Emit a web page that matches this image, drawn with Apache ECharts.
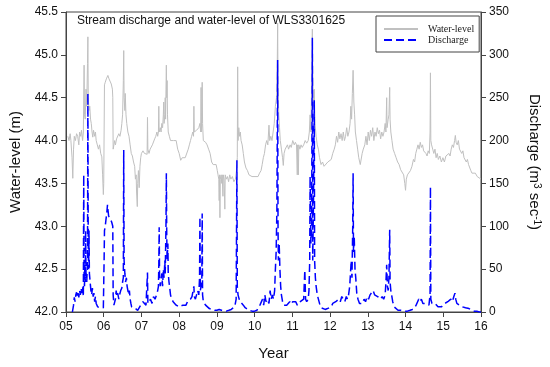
<!DOCTYPE html>
<html>
<head>
<meta charset="utf-8">
<script src="https://cdn.jsdelivr.net/npm/echarts@6/dist/echarts.min.js"></script>
<style>html,body{margin:0;padding:0;background:#fff}#c{width:550px;height:367px}</style>
</head>
<body>
<div id="c"></div>
<script>
// Water-level (m): [decimal year (05 = 2005), level]
var waterLevel = [
[5.05,44.05],[5.08,44.0],[5.11,44.08],[5.13,44.0],[5.16,43.8],[5.18,43.56],[5.20,43.9],[5.22,44.05],[5.25,44.0],[5.28,44.08],
[5.31,44.05],[5.34,43.95],[5.36,44.1],[5.39,44.05],[5.41,44.12],[5.44,44.0],[5.46,44.1],[5.48,44.88],[5.49,44.3],[5.51,44.25],
[5.53,44.6],[5.55,44.4],[5.57,44.9],[5.58,45.21],[5.59,44.5],[5.61,44.35],[5.63,44.4],[5.65,44.25],[5.67,44.2],[5.69,44.1],
[5.71,44.04],[5.73,44.12],[5.76,44.05],[5.78,44.1],[5.80,44.0],[5.83,43.95],[5.86,43.9],[5.89,43.95],[5.92,43.85],[5.95,43.81],
[5.97,43.6],[5.99,43.37],[6.00,43.5],[6.02,44.65],[6.04,44.68],[6.07,44.72],[6.09,44.7],[6.11,44.76],[6.14,44.72],[6.17,44.7],
[6.20,44.66],[6.23,44.6],[6.24,44.5],[6.25,43.9],[6.27,43.95],[6.29,44.0],[6.31,43.95],[6.34,44.02],[6.37,44.0],[6.40,44.08],
[6.43,44.05],[6.46,44.12],[6.48,44.2],[6.50,44.3],[6.52,44.7],[6.53,45.05],[6.54,44.5],[6.56,44.35],[6.57,44.55],[6.59,44.3],
[6.61,44.2],[6.64,44.1],[6.67,44.05],[6.70,43.95],[6.73,43.85],[6.76,43.82],[6.79,43.75],[6.82,43.7],[6.84,43.55],[6.86,43.6],
[6.87,43.4],[6.89,43.23],[6.90,43.5],[6.92,43.65],[6.94,43.45],[6.96,43.7],[6.98,43.8],[7.00,43.85],[7.04,43.88],[7.08,43.85],
[7.12,43.86],[7.15,43.84],[7.16,44.27],[7.17,43.9],[7.20,43.85],[7.23,43.9],[7.26,43.88],[7.29,43.95],[7.32,43.95],[7.35,44.02],
[7.38,44.05],[7.41,44.1],[7.43,44.05],[7.45,44.1],[7.46,44.4],[7.47,44.1],[7.50,44.15],[7.52,44.1],[7.54,44.2],[7.56,44.15],
[7.58,44.3],[7.59,44.45],[7.60,44.2],[7.62,44.3],[7.63,44.5],[7.64,44.25],[7.65,44.6],[7.66,44.88],[7.67,44.5],[7.68,44.7],
[7.69,44.3],[7.71,44.1],[7.74,44.05],[7.77,44.0],[7.81,44.02],[7.85,44.0],[7.88,43.98],[7.92,44.0],[7.96,43.9],[8.00,43.85],
[8.04,43.77],[8.08,43.8],[8.12,43.78],[8.16,43.8],[8.20,43.82],[8.24,43.9],[8.27,43.95],[8.30,44.0],[8.33,44.05],[8.36,44.1],
[8.38,44.05],[8.39,44.4],[8.40,44.1],[8.43,44.08],[8.46,44.12],[8.49,44.1],[8.52,44.15],[8.55,44.2],[8.57,44.1],[8.58,44.62],
[8.59,44.1],[8.60,44.3],[8.61,44.68],[8.62,44.2],[8.64,44.0],[8.67,44.02],[8.70,43.98],[8.74,43.95],[8.78,43.9],[8.82,43.85],
[8.86,43.75],[8.90,43.72],[8.94,43.7],[8.98,43.72],[9.01,43.65],[9.03,43.6],[9.05,43.55],[9.06,43.3],[9.07,43.6],[9.08,43.1],
[9.09,43.55],[9.11,43.6],[9.13,43.5],[9.14,43.6],[9.16,43.35],[9.17,43.6],[9.19,43.55],[9.21,43.2],[9.22,43.6],[9.25,43.55],
[9.28,43.58],[9.31,43.52],[9.34,43.6],[9.37,43.55],[9.41,43.58],[9.45,43.52],[9.49,43.55],[9.52,43.65],[9.54,43.8],[9.55,44.86],
[9.56,44.0],[9.58,44.15],[9.60,44.05],[9.62,44.1],[9.64,44.0],[9.67,43.95],[9.70,43.85],[9.73,43.75],[9.77,43.68],[9.81,43.65],
[9.85,43.6],[9.89,43.62],[9.93,43.58],[9.97,43.6],[10.01,43.58],[10.05,43.6],[10.09,43.58],[10.13,43.62],[10.17,43.65],[10.20,43.72],
[10.23,43.8],[10.26,43.85],[10.29,43.95],[10.32,44.0],[10.35,43.95],[10.38,44.18],[10.40,44.0],[10.43,44.05],[10.46,44.0],[10.49,44.1],
[10.52,44.2],[10.55,44.4],[10.58,44.5],[10.60,44.9],[10.61,45.37],[10.62,44.6],[10.64,44.3],[10.66,44.15],[10.68,44.0],[10.71,43.9],
[10.74,43.8],[10.76,43.71],[10.78,43.85],[10.81,43.9],[10.84,43.88],[10.87,43.95],[10.90,43.9],[10.94,43.95],[10.97,43.92],[11.01,44.0],
[11.05,43.95],[11.08,43.98],[11.11,43.95],[11.13,43.6],[11.14,43.95],[11.16,43.6],[11.17,43.95],[11.20,43.9],[11.23,43.95],[11.26,43.92],
[11.30,43.95],[11.34,44.0],[11.38,43.97],[11.42,44.0],[11.45,44.1],[11.47,44.3],[11.49,44.1],[11.51,44.6],[11.53,45.3],[11.54,44.8],
[11.56,44.4],[11.58,44.6],[11.60,44.2],[11.63,44.05],[11.66,43.95],[11.69,43.9],[11.72,43.8],[11.76,43.72],[11.80,43.75],[11.84,43.7],
[11.89,43.72],[11.94,43.75],[11.99,43.74],[12.03,43.78],[12.07,43.85],[12.11,43.9],[12.14,43.95],[12.17,44.05],[12.20,43.98],[12.23,44.1],
[12.26,44.02],[12.29,44.08],[12.32,44.0],[12.35,44.1],[12.38,44.0],[12.41,44.05],[12.44,44.15],[12.47,44.05],[12.50,44.1],[12.53,44.2],
[12.55,44.4],[12.57,44.25],[12.59,44.55],[12.61,44.82],[12.63,44.45],[12.65,44.3],[12.67,44.1],[12.70,44.0],[12.73,43.9],[12.76,43.8],
[12.80,43.72],[12.82,43.71],[12.85,43.85],[12.88,43.9],[12.92,43.95],[12.95,44.05],[12.98,43.95],[13.01,44.1],[13.04,44.0],[13.07,44.12],
[13.10,44.05],[13.13,44.15],[13.16,44.0],[13.19,44.1],[13.22,44.05],[13.25,44.15],[13.28,44.08],[13.31,44.12],[13.34,44.02],[13.37,44.1],
[13.40,44.05],[13.43,44.1],[13.46,44.2],[13.48,44.1],[13.50,44.5],[13.51,44.15],[13.54,44.25],[13.56,44.3],[13.58,44.62],[13.59,44.25],
[13.61,44.1],[13.64,44.0],[13.67,43.9],[13.71,43.85],[13.75,43.8],[13.79,43.75],[13.83,43.72],[13.87,43.66],[13.91,43.68],[13.95,43.6],
[13.98,43.5],[14.00,43.42],[14.02,43.55],[14.05,43.6],[14.09,43.62],[14.13,43.65],[14.17,43.7],[14.21,43.78],[14.24,43.75],[14.27,43.85],
[14.30,43.9],[14.33,43.95],[14.36,43.9],[14.39,43.98],[14.42,43.92],[14.45,43.95],[14.48,43.88],[14.51,43.9],[14.54,43.85],[14.57,43.82],
[14.60,43.88],[14.63,43.85],[14.65,44.1],[14.66,44.79],[14.67,44.0],[14.69,43.95],[14.72,43.9],[14.75,43.85],[14.78,43.9],[14.81,43.8],
[14.84,43.85],[14.87,43.78],[14.91,43.82],[14.95,43.75],[14.99,43.8],[15.03,43.75],[15.07,43.82],[15.11,43.8],[15.15,43.85],[15.18,43.82],
[15.21,43.9],[15.24,43.95],[15.27,43.92],[15.30,44.0],[15.32,44.06],[15.34,43.98],[15.37,43.95],[15.40,44.0],[15.43,43.9],[15.46,43.92],
[15.49,43.85],[15.52,43.88],[15.55,43.8],[15.58,43.82],[15.61,43.75],[15.64,43.78],[15.67,43.72],[15.70,43.7],[15.73,43.65],[15.76,43.62],
[15.80,43.6],[15.85,43.62],[15.90,43.58],[15.95,43.6],[16.00,43.55]
];

// Discharge (m3 s-1): [decimal year, discharge]
var discharge = [
[5.17,0],[5.20,8],[5.22,17],[5.24,12],[5.26,20],[5.28,23],[5.30,18],[5.32,22],[5.34,17],[5.36,25],
[5.38,20],[5.40,28],[5.42,22],[5.44,30],[5.46,18],[5.47,160],[5.48,40],[5.49,30],[5.50,55],[5.51,35],
[5.52,95],[5.53,45],[5.55,35],[5.57,60],[5.58,255],[5.59,70],[5.60,50],[5.61,95],[5.62,45],[5.64,35],
[5.66,25],[5.68,20],[5.70,28],[5.72,18],[5.74,22],[5.76,12],[5.78,18],[5.80,10],[5.82,12],[5.84,6],
[5.87,5],[5.91,5],[5.95,5],[5.99,5],[6.01,60],[6.02,95],[6.04,100],[6.06,108],[6.08,115],[6.10,125],
[6.11,120],[6.13,112],[6.15,110],[6.18,108],[6.21,105],[6.24,100],[6.25,20],[6.27,8],[6.29,6],[6.31,15],
[6.33,25],[6.35,18],[6.37,22],[6.40,15],[6.42,20],[6.45,25],[6.48,28],[6.50,35],[6.52,40],[6.53,189],
[6.54,60],[6.56,45],[6.58,35],[6.60,40],[6.62,30],[6.64,28],[6.66,20],[6.68,25],[6.70,15],[6.72,10],
[6.74,6],[6.77,5],[6.81,5],[6.85,3],[6.90,2],[6.95,2],[6.98,8],[7.00,10],[7.04,12],[7.08,10],
[7.12,8],[7.15,10],[7.16,46],[7.17,10],[7.20,12],[7.24,15],[7.28,10],[7.32,18],[7.36,15],[7.40,20],
[7.43,25],[7.45,30],[7.46,55],[7.47,99],[7.48,40],[7.50,30],[7.52,38],[7.54,45],[7.56,30],[7.58,50],
[7.60,40],[7.62,60],[7.63,45],[7.65,100],[7.66,162],[7.67,90],[7.68,60],[7.70,80],[7.71,45],[7.73,35],
[7.75,28],[7.77,20],[7.80,15],[7.84,12],[7.88,10],[7.92,8],[7.96,10],[8.00,6],[8.05,5],[8.10,8],
[8.14,10],[8.18,8],[8.22,12],[8.26,10],[8.30,15],[8.34,18],[8.38,20],[8.39,30],[8.40,18],[8.43,15],
[8.46,20],[8.49,25],[8.52,20],[8.54,40],[8.55,111],[8.56,25],[8.58,30],[8.60,40],[8.61,115],[8.62,20],
[8.64,12],[8.67,10],[8.70,8],[8.74,6],[8.80,4],[8.87,3],[8.94,2],[9.00,2],[9.06,3],[9.12,2],
[9.18,1],[9.25,1],[9.32,2],[9.38,3],[9.44,5],[9.48,8],[9.51,15],[9.53,177],[9.54,30],[9.56,20],
[9.59,15],[9.62,12],[9.66,10],[9.70,8],[9.75,5],[9.80,3],[9.86,2],[9.93,1],[10.00,1],[10.06,2],
[10.10,5],[10.14,8],[10.18,10],[10.21,15],[10.24,8],[10.27,20],[10.30,12],[10.34,15],[10.38,10],[10.41,25],
[10.44,15],[10.47,20],[10.50,15],[10.53,25],[10.55,50],[10.57,70],[10.59,120],[10.61,294],[10.62,99],[10.63,60],
[10.65,80],[10.67,50],[10.69,30],[10.71,20],[10.74,12],[10.77,8],[10.81,10],[10.85,8],[10.89,10],[10.93,12],
[10.97,9],[11.01,12],[11.05,10],[11.09,12],[11.13,8],[11.17,10],[11.21,12],[11.25,10],[11.30,15],[11.33,49],
[11.35,15],[11.38,12],[11.42,15],[11.44,25],[11.46,60],[11.47,158],[11.49,80],[11.51,100],[11.53,320],[11.54,60],
[11.56,130],[11.58,247],[11.59,60],[11.61,40],[11.63,30],[11.66,20],[11.69,15],[11.72,10],[11.76,5],[11.81,3],
[11.87,3],[11.93,4],[11.98,5],[12.03,6],[12.07,10],[12.11,8],[12.15,12],[12.19,10],[12.23,15],[12.27,12],
[12.31,18],[12.35,15],[12.39,12],[12.43,18],[12.46,15],[12.49,20],[12.52,30],[12.54,45],[12.56,60],[12.58,40],
[12.60,100],[12.61,162],[12.62,70],[12.64,88],[12.66,50],[12.68,40],[12.71,20],[12.74,15],[12.78,10],[12.82,12],
[12.86,10],[12.90,15],[12.94,12],[12.98,18],[13.02,15],[13.06,20],[13.10,18],[13.14,25],[13.18,20],[13.22,22],
[13.26,18],[13.30,20],[13.34,15],[13.38,18],[13.42,15],[13.46,20],[13.48,35],[13.50,55],[13.52,30],[13.54,25],
[13.56,40],[13.58,96],[13.59,35],[13.61,25],[13.63,20],[13.66,12],[13.70,6],[13.75,4],[13.80,2],[13.87,2],
[13.95,1],[14.05,1],[14.12,2],[14.18,3],[14.24,5],[14.28,8],[14.32,12],[14.35,15],[14.38,12],[14.42,15],
[14.46,10],[14.50,12],[14.54,10],[14.58,10],[14.62,8],[14.65,20],[14.66,146],[14.67,15],[14.70,10],[14.74,8],
[14.78,10],[14.82,8],[14.86,6],[14.90,8],[14.95,6],[15.00,8],[15.04,10],[15.08,8],[15.12,12],[15.16,10],
[15.20,15],[15.24,12],[15.28,18],[15.31,22],[15.33,15],[15.36,10],[15.40,12],[15.43,8],[15.47,10],[15.51,6],
[15.55,8],[15.59,5],[15.64,6],[15.68,4],[15.72,3],[15.76,2],[15.82,1],[15.89,1],[15.95,0],[16.00,0]
];

// Tick labels of the year axis
var yearTicks = ['05','06','07','08','09','10','11','12','13','14','15','16'];
var seriesNames = ['Water-level', 'Discharge'];

var font = 'Arial, "Liberation Sans", sans-serif';
var chart = echarts.init(document.getElementById('c'), null, { renderer: 'canvas' });
chart.setOption({
  animation: false,
  backgroundColor: '#fff',
  title: {
    text: 'Stream discharge and water-level of WLS3301625',
    left: 77, top: 15, padding: 0,
    textStyle: { fontFamily: font, fontSize: 12, fontWeight: 'normal', color: '#111' }
  },
  legend: {
    orient: 'vertical',
    left: 376, top: 16,
    padding: [8, 5, 7, 7],
    itemWidth: 34, itemHeight: 12, itemGap: 1,
    borderColor: '#444', borderWidth: 1,
    backgroundColor: '#fff',
    itemStyle: { opacity: 0 },
    textStyle: { fontFamily: '"Liberation Serif", "Times New Roman", serif', fontSize: 10, color: '#222', padding: [0, 0, 0, 5] },
    data: seriesNames
  },
  grid: { left: 66, right: 66, top: 12, bottom: 55, show: true, borderColor: '#444', borderWidth: 1, backgroundColor: 'transparent' },
  xAxis: {
    type: 'value', min: 5, max: 16, interval: 1,
    name: 'Year', nameLocation: 'middle', nameGap: 34,
    nameTextStyle: { fontFamily: font, fontSize: 15, color: '#111' },
    axisLine: { show: true, lineStyle: { color: '#444' } },
    axisTick: { show: true, inside: false, length: 5, lineStyle: { color: '#444' } },
    splitLine: { show: false },
    axisLabel: { margin: 9, fontFamily: font, fontSize: 12, color: '#111',
      formatter: function (v) { return yearTicks[Math.round(v) - 5]; } }
  },
  yAxis: [{
    type: 'value', min: 42, max: 45.5, interval: 0.5, position: 'left',
    name: 'Water-level (m)', nameLocation: 'middle', nameGap: 43, nameRotate: 90,
    nameTextStyle: { fontFamily: font, fontSize: 15, color: '#111' },
    axisLine: { show: true, lineStyle: { color: '#444' } },
    axisTick: { show: true, length: 5, lineStyle: { color: '#444' } },
    splitLine: { show: false },
    axisLabel: { margin: 8, fontFamily: font, fontSize: 12, color: '#111',
      formatter: function (v) { return v.toFixed(1); } }
  }, {
    type: 'value', min: 0, max: 350, interval: 50, position: 'right',
    name: '{n|Discharge (m}{s|3}{n| sec}{s|-1}{n|)}', nameLocation: 'middle', nameGap: 46, nameRotate: -90,
    nameTextStyle: { fontFamily: font, fontSize: 15, color: '#111',
      rich: { n: { fontFamily: font, fontSize: 15, color: '#111' }, s: { fontFamily: font, fontSize: 10, color: '#111', verticalAlign: 'top' } } },
    axisLine: { show: true, lineStyle: { color: '#444' } },
    axisTick: { show: true, length: 5, lineStyle: { color: '#444' } },
    splitLine: { show: false },
    axisLabel: { margin: 8, fontFamily: font, fontSize: 12, color: '#111' }
  }],
  series: [{
    name: seriesNames[0], type: 'line', yAxisIndex: 0,
    data: waterLevel,
    symbol: 'none', showSymbol: false,
    lineStyle: { color: '#c0c0c0', width: 1 },
    itemStyle: { color: '#c0c0c0' },
    z: 2
  }, {
    name: seriesNames[1], type: 'line', yAxisIndex: 1,
    data: discharge,
    symbol: 'none', showSymbol: false,
    lineStyle: { color: '#0000ff', width: 1.5, type: [8, 4] },
    itemStyle: { color: '#0000ff' },
    z: 3
  }]
});
</script>
</body>
</html>
